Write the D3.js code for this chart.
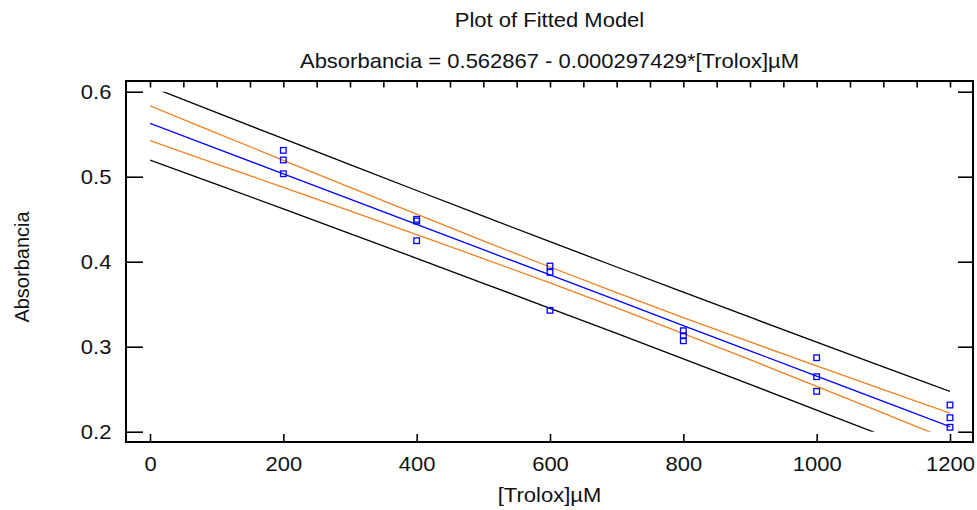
<!DOCTYPE html>
<html>
<head>
<meta charset="utf-8">
<script src="https://cdn.jsdelivr.net/npm/d3@7"></script>
<style>
  body { margin: 0; background: #fff; }
  svg text { font-family: "Liberation Sans", Arial, sans-serif; fill: #111; transform-box: fill-box; transform-origin: center; transform: scaleX(1.1); }
  svg text.vlabel { transform: none; }
</style>
</head>
<body>
<svg width="977" height="510"></svg>
<script>
const titleText = 'Plot of Fitted Model';
const subtitleText = 'Absorbancia = 0.562867 - 0.000297429*[Trolox]\u00b5M';
const xAxisLabelText = '[Trolox]\u00b5M';
const yAxisLabelText = 'Absorbancia';

// observations
const obsX = [200, 200, 200, 400, 400, 400, 600, 600, 600, 800, 800, 800, 1000, 1000, 1000, 1200, 1200, 1200];
const obsY = [0.531, 0.5197, 0.5035, 0.4499, 0.4479, 0.4247, 0.3949, 0.3875, 0.3428, 0.3188, 0.3129, 0.307, 0.287, 0.2647, 0.2475, 0.2314, 0.2165, 0.2052];

// fitted line and limits, read at these x positions
const bandX = [0, 100, 200, 300, 400, 500, 600, 700, 800, 900, 1000, 1100, 1200];
const fitted = [0.5629, 0.5331, 0.5034, 0.4736, 0.4439, 0.4141, 0.3844, 0.3547, 0.3249, 0.2952, 0.2654, 0.2357, 0.2060];
const confUpper = [0.5834, 0.5513, 0.5193, 0.4874, 0.4559, 0.4245, 0.3938, 0.3637, 0.3343, 0.3056, 0.2774, 0.2495, 0.2219];
const confLower = [0.5424, 0.5149, 0.4875, 0.4598, 0.4319, 0.4037, 0.3750, 0.3457, 0.3155, 0.2848, 0.2534, 0.2219, 0.1901];
const predUpper = [0.6062, 0.5753, 0.5447, 0.5141, 0.4838, 0.4536, 0.4236, 0.3938, 0.3641, 0.3347, 0.3053, 0.2762, 0.2473];
const predLower = [0.5196, 0.4909, 0.4621, 0.4331, 0.4040, 0.3746, 0.3452, 0.3156, 0.2857, 0.2557, 0.2255, 0.1952, 0.1647];

const xTicks = [0, 200, 400, 600, 800, 1000, 1200];
const yTicks = [0.2, 0.3, 0.4, 0.5, 0.6];

const svg = d3.select('svg');
const margin = { top: 81, right: 4, bottom: 68, left: 126 };
const width = +svg.attr('width');
const height = +svg.attr('height');

const xScale = d3.scaleLinear().domain([-36, 1234.5]).range([margin.left, width - margin.right]);
const yScale = d3.scaleLinear().domain([0.1879, 0.6126]).range([height - margin.bottom, margin.top]);

const x0 = xScale.range()[0], x1 = xScale.range()[1];
const yTop = yScale.range()[1], yBot = yScale.range()[0];

// clip the limits to the drawn y range
svg.append('clipPath').attr('id', 'clip')
  .append('rect')
    .attr('x', xScale(0))
    .attr('y', yScale(0.6))
    .attr('width', xScale(1200) - xScale(0))
    .attr('height', yScale(0.2) - yScale(0.6));

// axes (ticks pointing inward)
const minorX = d3.range(0, 1201, 50);

const bottomAxisG = svg.append('g').attr('transform', `translate(0,${yBot})`);
bottomAxisG.call(d3.axisBottom(xScale).tickValues(minorX).tickSize(-4.5).tickFormat(''));
bottomAxisG.call(d3.axisBottom(xScale).tickValues(xTicks).tickSize(-8).tickPadding(15).tickFormat(d3.format('d')));

const topAxisG = svg.append('g').attr('transform', `translate(0,${yTop})`);
topAxisG.call(d3.axisTop(xScale).tickValues(minorX).tickSize(-6.5).tickFormat(''));

const leftAxisG = svg.append('g').attr('transform', `translate(${x0},0)`);
leftAxisG.call(d3.axisLeft(yScale).tickValues(yTicks).tickSize(-17).tickPadding(16).tickFormat(d3.format('.1f')));

const rightAxisG = svg.append('g').attr('transform', `translate(${x1},0)`);
rightAxisG.call(d3.axisRight(yScale).tickValues(yTicks).tickSize(-15).tickFormat(''));

svg.selectAll('.domain').remove();
svg.selectAll('.tick line').attr('stroke', '#000').attr('stroke-width', 1.6);
svg.selectAll('.tick text').attr('font-size', 20).style('font-family', '"Liberation Sans", Arial, sans-serif');

svg.append('rect')
  .attr('x', x0).attr('y', yTop)
  .attr('width', x1 - x0).attr('height', yBot - yTop)
  .attr('fill', 'none').attr('stroke', '#000').attr('stroke-width', 2);

// lines
const lineOf = vals => d3.line()
  .x((d, i) => xScale(bandX[i]))
  .y(d => yScale(d))(vals);

const g = svg.append('g').attr('clip-path', 'url(#clip)');
[[predUpper, '#000'], [predLower, '#000'], [confUpper, '#f08020'], [confLower, '#f08020'], [fitted, '#0000ff']]
  .forEach(([vals, color]) => {
    g.append('path')
      .attr('d', lineOf(vals))
      .attr('fill', 'none')
      .attr('stroke', color)
      .attr('stroke-width', 1.3);
  });

// points
svg.append('g').selectAll('rect').data(obsX)
  .enter().append('rect')
    .attr('x', (d, i) => xScale(d) - 2.8)
    .attr('y', (d, i) => yScale(obsY[i]) - 2.8)
    .attr('width', 5.6)
    .attr('height', 5.6)
    .attr('fill', 'none')
    .attr('stroke', '#0000ff')
    .attr('stroke-width', 1.3);

// titles
const cx = (x0 + x1) / 2;
svg.append('text').attr('x', cx).attr('y', 27).attr('text-anchor', 'middle').attr('font-size', 20).text(titleText);
svg.append('text').attr('x', cx).attr('y', 68).attr('text-anchor', 'middle').attr('font-size', 20).text(subtitleText);
svg.append('text').attr('x', cx).attr('y', 502).attr('text-anchor', 'middle').attr('font-size', 20).text(xAxisLabelText);
svg.append('g')
  .attr('transform', `translate(29,267) rotate(-90)`)
  .append('text')
    .attr('class', 'vlabel')
    .attr('text-anchor', 'middle')
    .attr('font-size', 20)
    .text(yAxisLabelText);
</script>
</body>
</html>
